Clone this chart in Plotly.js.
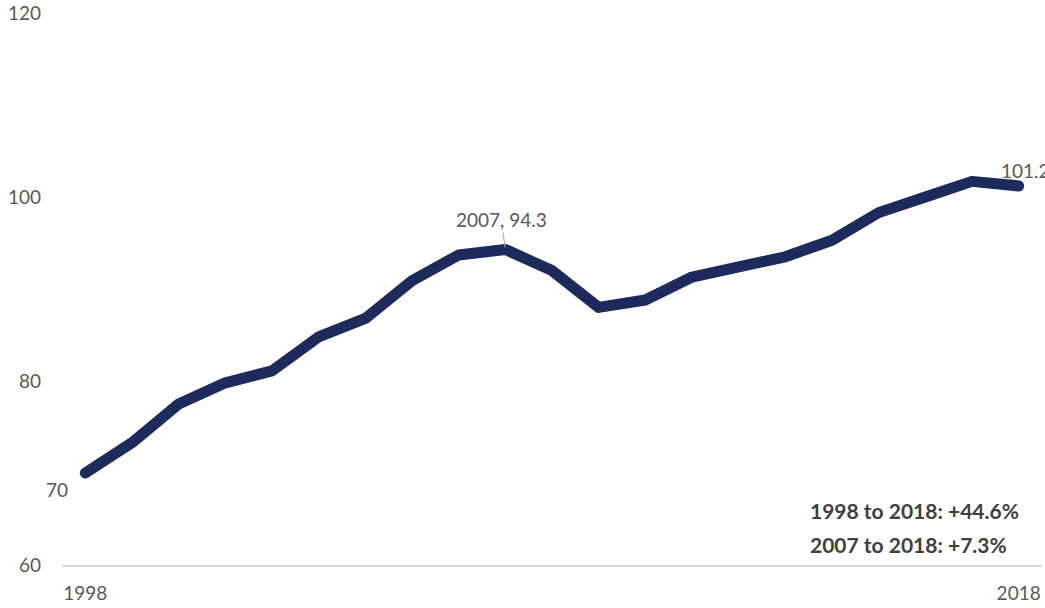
<!DOCTYPE html>
<html>
<head>
<meta charset="utf-8">
<script src="https://cdn.plot.ly/plotly-3.0.1.min.js"></script>
<style>html,body{margin:0;padding:0;background:#fff;}#chart{width:1045px;height:608px;}
#chart .scatterlayer path.js-line{stroke-linecap:round;stroke-linejoin:round;}</style>
</head>
<body>
<div id="chart"></div>
<script>
const years = [1998,1999,2000,2001,2002,2003,2004,2005,2006,2007,2008,2009,2010,2011,2012,2013,2014,2015,2016,2017,2018];
const values = [70.0,73.3,77.5,79.8,81.1,84.8,86.8,90.9,93.7,94.3,92.0,88.0,88.8,91.3,92.4,93.5,95.3,98.3,100.0,101.7,101.2];
const yTicks = [60,80,100,120];
const xTicks = [1998,2018];
const notes = ["1998 to 2018: +44.6%","2007 to 2018: +7.3%"];

const font = "Lato, 'Open Sans', sans-serif";
const grey = "#595959";
const fs = 19;

const iFirst = 0, iPeak = years.indexOf(2007), iLast = years.length - 1;

const trace = {
  x: years, y: values, type: "scatter", mode: "lines",
  line: {color: "#1c2a5c", width: 11},
  hoverinfo: "skip"
};

const annotations = [
  {x: years[iFirst], y: values[iFirst], text: String(Math.round(values[iFirst])), showarrow: false,
   xanchor: "center", yanchor: "middle", xshift: -28, yshift: -16, font: {family: font, size: fs, color: grey}},
  {x: years[iPeak], y: values[iPeak], text: years[iPeak] + ", " + values[iPeak].toFixed(1), showarrow: true,
   arrowhead: 0, arrowwidth: 1, arrowcolor: "#a6a6a6", ax: -4, ay: -30, standoff: 2,
   font: {family: font, size: fs, color: grey}},
  {x: years[iLast], y: values[iLast], text: values[iLast].toFixed(1), showarrow: false,
   xanchor: "left", yanchor: "middle", xshift: -20, yshift: 15, font: {family: font, size: fs, color: grey}},
  {xref: "paper", yref: "paper", x: 0.761, y: 0.0, xanchor: "left", yanchor: "middle",
   text: "<b>" + notes[0] + "</b>", showarrow: false,
   yshift: 55, font: {family: font, size: 21, color: "#404040"}},
  {xref: "paper", yref: "paper", x: 0.761, y: 0.0, xanchor: "left", yanchor: "middle",
   text: "<b>" + notes[1] + "</b>", showarrow: false,
   yshift: 21, font: {family: font, size: 21, color: "#404040"}}
];

const layout = {
  width: 1045, height: 608,
  margin: {l: 62, r: 3, t: 13, b: 43},
  paper_bgcolor: "#fff", plot_bgcolor: "#fff",
  showlegend: false,
  font: {family: font, size: fs, color: grey},
  xaxis: {range: [1997.5, 2018.5], tickvals: xTicks, ticktext: xTicks.map(String),
    showgrid: false, zeroline: false, showline: true, linecolor: "#d9d9d9", linewidth: 2,
    ticks: "", ticklabelstandoff: 10, tickfont: {family: font, size: fs, color: grey}},
  yaxis: {range: [60, 120], tickvals: yTicks, showgrid: false, zeroline: false, showline: false,
    ticks: "", ticklabelstandoff: 20, tickfont: {family: font, size: fs, color: grey}},
  annotations: annotations
};

Plotly.newPlot("chart", [trace], layout, {displayModeBar: false, staticPlot: true});
</script>
</body>
</html>
